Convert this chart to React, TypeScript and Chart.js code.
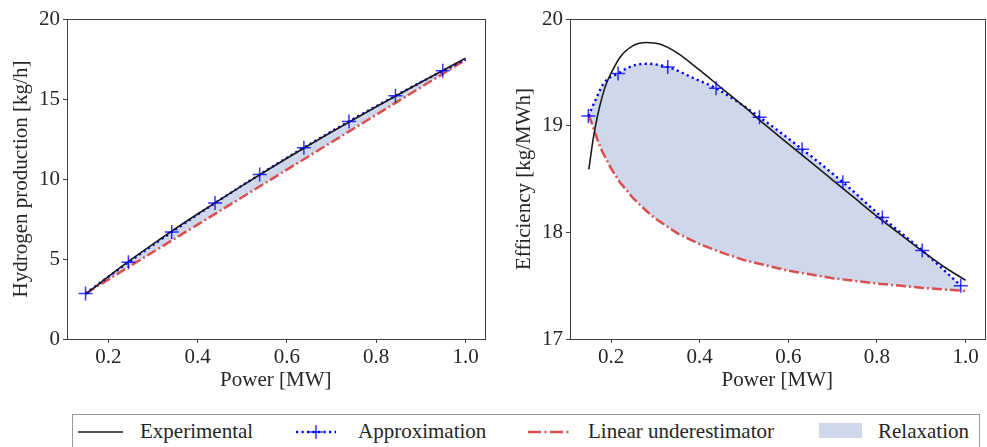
import React, { useEffect, useRef } from "react";
import { Chart, registerables } from "chart.js";

Chart.register(...registerables);

// ---------- tick labels ----------
const X_TICKS = [0.2, 0.4, 0.6, 0.8, 1.0];
const H_TICKS = [0, 5, 10, 15, 20];
const EFF_TICKS = [17, 18, 19, 20];

// ---------- left panel: hydrogen production [kg/h] ----------
const H_EXP_P = [0.15, 0.17, 0.2, 0.25, 0.3, 0.35, 0.4, 0.5, 0.6, 0.7, 0.8, 0.9, 1.0];
const H_EXP = [2.79, 3.25, 3.9, 4.94, 5.93, 6.89, 7.81, 9.59, 11.3, 12.94, 14.52, 16.05, 17.55];

const H_APPROX_P = [0.149, 0.245, 0.342, 0.439, 0.539, 0.638, 0.739, 0.843, 0.949, 1.0];
const H_APPROX = [2.84, 4.79, 6.68, 8.5, 10.28, 11.96, 13.6, 15.2, 16.76, 17.47];

const H_MARK_P = [0.149, 0.245, 0.342, 0.439, 0.539, 0.638, 0.739, 0.843, 0.949];
const H_MARK = [2.84, 4.79, 6.68, 8.5, 10.28, 11.96, 13.6, 15.2, 16.76];

const H_LIN_P = [0.15, 0.4, 0.7, 1.0];
const H_LIN = [2.86, 7.15, 12.3, 17.45];

// ---------- right panel: efficiency [kg/MWh] ----------
const EFF_EXP_P = [0.15, 0.16, 0.17, 0.18, 0.19, 0.2, 0.22, 0.25, 0.28, 0.31, 0.35, 0.4, 0.45, 0.5, 0.55, 0.6, 0.65, 0.7, 0.75, 0.8, 0.85, 0.9, 0.95, 1.0];
const EFF_EXP = [18.59, 18.88, 19.1, 19.27, 19.4, 19.49, 19.64, 19.75, 19.78, 19.765, 19.68, 19.52, 19.35, 19.18, 19.0, 18.83, 18.66, 18.49, 18.32, 18.15, 17.99, 17.83, 17.68, 17.55];

const EFF_APPROX_P = [0.149, 0.166, 0.184, 0.216, 0.248, 0.281, 0.328, 0.389, 0.437, 0.535, 0.631, 0.723, 0.812, 0.902, 0.989];
const EFF_APPROX = [19.09, 19.25, 19.4, 19.49, 19.56, 19.58, 19.55, 19.44, 19.35, 19.08, 18.78, 18.47, 18.14, 17.83, 17.5];

const EFF_MARK_P = [0.149, 0.216, 0.328, 0.437, 0.535, 0.631, 0.723, 0.812, 0.902, 0.989];
const EFF_MARK = [19.09, 19.49, 19.55, 19.35, 19.08, 18.78, 18.47, 18.14, 17.83, 17.5];

const EFF_LIN_P = [0.15, 0.16, 0.17, 0.18, 0.2, 0.22, 0.25, 0.28, 0.3, 0.35, 0.4, 0.45, 0.5, 0.55, 0.6, 0.7, 0.8, 0.9, 1.0];
const EFF_LIN = [19.1, 18.98, 18.86, 18.76, 18.6, 18.47, 18.32, 18.2, 18.13, 17.99, 17.89, 17.81, 17.74, 17.69, 17.64, 17.57, 17.52, 17.48, 17.45];

// ---------- styles ----------
const FONT_FAMILY = "'Liberation Serif', 'Times New Roman', serif";
const TEXT_COLOR = "#262626";
const AXIS_COLOR = "#404040";
const BLACK = "#1a1a1a";
const BLUE = "#0000ff";
const MARK_BLUE = "rgba(0,0,255,0.8)";
const RED = "#da4f50";
const FILL = "#cfd8ea";
const FONT = { family: FONT_FAMILY, size: 21 };

const xy = (xs: number[], ys: number[]) => xs.map((x, i) => ({ x, y: ys[i] }));

const framePlugin = {
  id: "frame",
  afterDraw(chart: any) {
    const { ctx, chartArea } = chart;
    const l = Math.round(chartArea.left) + 0.5;
    const t = Math.round(chartArea.top) + 0.5;
    const r = Math.round(chartArea.right) + 0.5;
    const b = Math.round(chartArea.bottom) + 0.5;
    ctx.save();
    ctx.strokeStyle = AXIS_COLOR;
    ctx.lineWidth = 1;
    ctx.strokeRect(l, t, r - l, b - t);
    ctx.restore();
  },
};

type PanelProps = {
  left: number;
  width: number;
  yAxisWidth: number;
  yTitle: string;
  yTitlePad: number;
  yMin: number;
  yMax: number;
  yTicks: number[];
  rightPad: number;
  exp: { x: number; y: number }[];
  approx: { x: number; y: number }[];
  marks: { x: number; y: number }[];
  lin: { x: number; y: number }[];
};

function Panel(p: PanelProps) {
  const ref = useRef<HTMLCanvasElement | null>(null);
  useEffect(() => {
    if (!ref.current) return;
    const zeroPad = (s: any) => {
      s.paddingLeft = 0;
      s.paddingRight = 0;
      s.paddingTop = 0;
      s.paddingBottom = 0;
    };
    const chart = new Chart(ref.current, {
      type: "line",
      data: {
        datasets: [
          {
            label: "Linear underestimator",
            data: p.lin,
            borderColor: RED,
            borderWidth: 2.5,
            borderDash: [10, 3, 2, 3],
            pointRadius: 0,
            fill: false,
            order: 3,
          } as any,
          {
            label: "Approximation",
            data: p.approx,
            borderColor: BLUE,
            borderWidth: 2.4,
            borderDash: [2.2, 3.3],
            pointRadius: 0,
            fill: 0,
            backgroundColor: FILL,
            cubicInterpolationMode: "monotone",
            order: 2,
          },
          {
            label: "Experimental",
            data: p.exp,
            borderColor: BLACK,
            borderWidth: 1.6,
            pointRadius: 0,
            fill: false,
            cubicInterpolationMode: "monotone",
            order: 1,
          },
          {
            label: "Approximation markers",
            data: p.marks,
            showLine: false,
            pointStyle: "cross",
            pointRadius: 7,
            pointBorderColor: MARK_BLUE,
            pointBackgroundColor: MARK_BLUE,
            pointBorderWidth: 1.5,
            fill: false,
            order: 0,
          },
        ],
      },
      options: {
        animation: false,
        responsive: false,
        maintainAspectRatio: false,
        parsing: false as any,
        layout: { padding: { left: 0, top: 19, right: p.rightPad, bottom: 0 } },
        plugins: {
          legend: { display: false },
          tooltip: { enabled: false },
          filler: { drawTime: "beforeDatasetsDraw" } as any,
        },
        scales: {
          x: {
            type: "linear",
            min: 0.1075,
            max: 1.0425,
            afterBuildTicks: (s: any) => {
              s.ticks = X_TICKS.map((v) => ({ value: v }));
            },
            afterFit: (s: any) => {
              s.height = 61;
              zeroPad(s);
            },
            ticks: {
              font: FONT,
              color: TEXT_COLOR,
              padding: 2,
              maxRotation: 0,
              autoSkip: false,
              callback: (v: any) => Number(v).toFixed(1),
            },
            grid: { display: true, drawOnChartArea: false, drawTicks: true, tickLength: 4, color: AXIS_COLOR },
            border: { display: true, color: AXIS_COLOR, width: 1 },
            title: { display: true, text: "Power [MW]", font: FONT, color: TEXT_COLOR, padding: { top: 7, bottom: 7 } },
          },
          y: {
            type: "linear",
            min: p.yMin,
            max: p.yMax,
            afterBuildTicks: (s: any) => {
              s.ticks = p.yTicks.map((v) => ({ value: v }));
            },
            afterFit: (s: any) => {
              s.width = p.yAxisWidth;
              zeroPad(s);
            },
            ticks: {
              font: FONT,
              color: TEXT_COLOR,
              padding: 3,
              autoSkip: false,
              callback: (v: any) => String(v),
            },
            grid: { display: true, drawOnChartArea: false, drawTicks: true, tickLength: 4, color: AXIS_COLOR },
            border: { display: true, color: AXIS_COLOR, width: 1 },
            title: {
              display: true,
              text: p.yTitle,
              font: FONT,
              color: TEXT_COLOR,
              padding: { top: p.yTitlePad, bottom: p.yTitlePad },
            },
          },
        },
      },
      plugins: [framePlugin],
    } as any);
    return () => chart.destroy();
  }, []);
  return (
    <canvas
      ref={ref}
      width={p.width}
      height={400}
      style={{ position: "absolute", left: p.left, top: 0, width: p.width, height: 400 }}
    />
  );
}

const legendText: React.CSSProperties = {
  position: "absolute",
  top: 421,
  fontFamily: FONT_FAMILY,
  fontSize: 21,
  lineHeight: "21px",
  color: TEXT_COLOR,
  whiteSpace: "nowrap",
};

export default function App() {
  return (
    <div
      style={{
        position: "fixed",
        left: 0,
        top: 0,
        width: 987,
        height: 447,
        overflow: "hidden",
        background: "#fff",
      }}
    >
      <Panel
        left={0}
        width={493}
        yAxisWidth={67}
        yTitle="Hydrogen production [kg/h]"
        yTitlePad={9}
        yMin={0}
        yMax={20}
        yTicks={H_TICKS}
        rightPad={7}
        exp={xy(H_EXP_P, H_EXP)}
        approx={xy(H_APPROX_P, H_APPROX)}
        marks={xy(H_MARK_P, H_MARK)}
        lin={xy(H_LIN_P, H_LIN)}
      />
      <Panel
        left={493}
        width={500}
        yAxisWidth={77}
        yTitle="Efficiency [kg/MWh]"
        yTitlePad={19}
        yMin={17}
        yMax={20}
        yTicks={EFF_TICKS}
        rightPad={4.6}
        exp={xy(EFF_EXP_P, EFF_EXP)}
        approx={xy(EFF_APPROX_P, EFF_APPROX)}
        marks={xy(EFF_MARK_P, EFF_MARK)}
        lin={xy(EFF_LIN_P, EFF_LIN)}
      />
      <svg
        width={987}
        height={447}
        style={{ position: "absolute", left: 0, top: 0, pointerEvents: "none" }}
      >
        <rect x={72.5} y={414.5} width={907} height={40} fill="#fff" stroke="#999" strokeWidth={1} />
        <line x1={78} y1={432} x2={123} y2={432} stroke={BLACK} strokeWidth={1.6} />
        <line x1={296} y1={432} x2={336} y2={432} stroke={BLUE} strokeWidth={2.4} strokeDasharray="2.2 3.3" />
        <line x1={309} y1={432} x2={323} y2={432} stroke={MARK_BLUE} strokeWidth={1.5} />
        <line x1={316} y1={425} x2={316} y2={439} stroke={MARK_BLUE} strokeWidth={1.5} />
        <line x1={528} y1={432} x2={569} y2={432} stroke={RED} strokeWidth={2.5} strokeDasharray="13 3.5 2 3.5" />
        <rect x={819} y={423} width={43} height={15} fill={FILL} />
      </svg>
      <span style={{ ...legendText, left: 140 }}>Experimental</span>
      <span style={{ ...legendText, left: 358 }}>Approximation</span>
      <span style={{ ...legendText, left: 588 }}>Linear underestimator</span>
      <span style={{ ...legendText, left: 878 }}>Relaxation</span>
    </div>
  );
}
